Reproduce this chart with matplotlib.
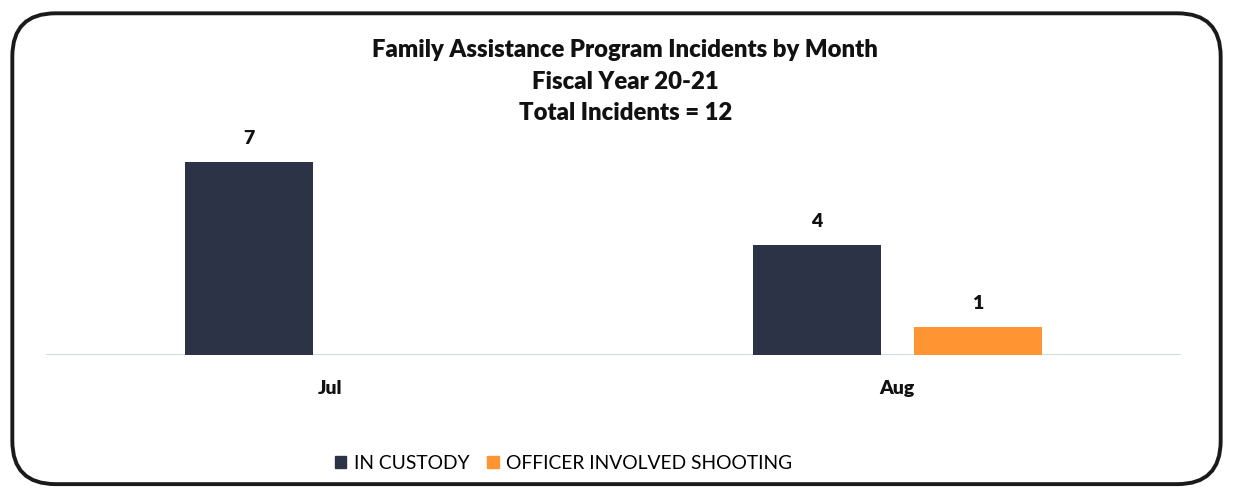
import matplotlib.pyplot as plt
import numpy as np
from matplotlib.patches import FancyBboxPatch

plt.rcParams['font.family'] = ['Lato', 'DejaVu Sans']

months = ['Jul', 'Aug']
in_custody = [7, 4]
officer_shooting = [0, 1]
series_names = ['IN CUSTODY', 'OFFICER INVOLVED SHOOTING']
colors = ['#2c3346', '#ff9433']

fig = plt.figure(figsize=(12.33, 4.93), dpi=100)

# rounded frame around the whole chart
frame = FancyBboxPatch((0.010, 0.018), 0.980, 0.955,
                       boxstyle='round,pad=0,rounding_size=0.035',
                       transform=fig.transFigure, fill=False,
                       edgecolor='#1a1a1a', linewidth=2.8,
                       mutation_aspect=12.33 / 4.93)
fig.patches.append(frame)

ax = fig.add_axes([0.037, 0.28, 0.921, 0.45])
x = np.arange(len(months))
w = 0.226
off = 0.142

for vals, xo, c in [(in_custody, -off, colors[0]), (officer_shooting, off, colors[1])]:
    for xi, v in zip(x, vals):
        if v == 0:
            continue
        ax.bar(xi + xo, v, width=w, color=c, zorder=2)
        ax.text(xi + xo, v + 0.55, str(v), ha='center', va='bottom',
                fontsize=14, fontweight='heavy', color='#111111')

ax.set_xlim(-0.5, 1.5)
ax.set_ylim(0, 8.05)
ax.axhline(0, color='#c9d3dd', linewidth=1.2, zorder=1)
for s in ax.spines.values():
    s.set_visible(False)
ax.set_yticks([])
ax.set_xticks(x)
ax.set_xticklabels(months, fontsize=14, fontweight='heavy', color='#111111')
ax.tick_params(axis='x', length=0, pad=18)

title_lines = ['Family Assistance Program Incidents by Month',
               'Fiscal Year 20-21',
               'Total Incidents = 12']
for ty, line in zip([0.898, 0.834, 0.770], title_lines):
    fig.text(0.507, ty, line, ha='center', va='center', fontsize=17.2,
             fontweight='heavy', color='#111111')

handles = [plt.Rectangle((0, 0), 1, 1, color=c) for c in colors]
fig.legend(handles, series_names, loc='center', bbox_to_anchor=(0.457, 0.06),
           ncol=2, frameon=False, fontsize=13.9, handlelength=0.6, handleheight=0.6,
           handletextpad=0.4, columnspacing=0.9)

fig.savefig('out.png', dpi=100)
